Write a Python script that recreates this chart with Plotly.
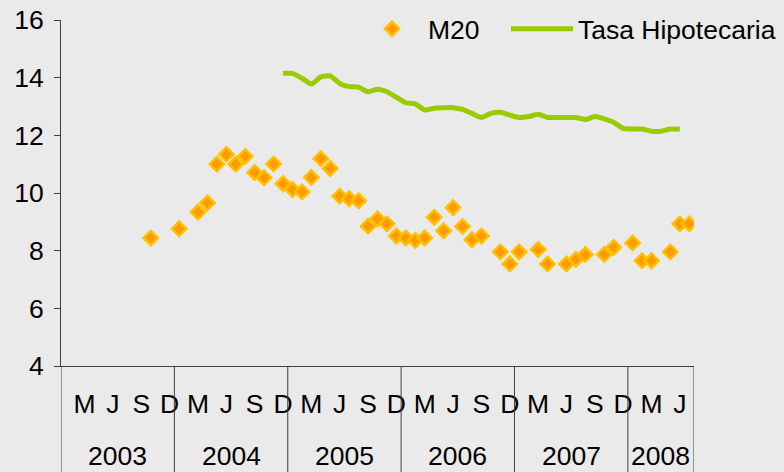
import plotly.graph_objects as go

# ---- data ----
years = ["2003", "2004", "2005", "2006", "2007", "2008"]
months_per_year = [12, 12, 12, 12, 12, 7]
month_tick_letters = ["M", "J", "S", "D"]
month_tick_pos = [2, 5, 8, 11]          # month index within a year

m20 = [None, None, None, None, None, None, None, None, None, 8.44, None, None,      # 2003
       8.76, None, 9.34, 9.66, 11.00, 11.34, 11.00, 11.27, 10.71, 10.53, 11.01, 10.32,  # 2004
       10.12, 10.04, 10.54, 11.19, 10.85, 9.89, 9.80, 9.73, 8.85, 9.10, 8.93, 8.51,     # 2005
       8.44, 8.36, 8.44, 9.16, 8.69, 9.49, 8.84, 8.38, 8.51, None, 7.96, 7.54,         # 2006
       7.96, None, 8.04, 7.54, None, 7.54, 7.70, 7.87, None, 7.87, 8.11, None,         # 2007
       8.27, 7.65, 7.65, None, 7.96, 8.93, 8.93]                                      # 2008

tasa = [None] * 23 + [
    14.15,                                                                        # Dic 2004
    14.15, 13.98, 13.78, 14.03, 14.06, 13.80, 13.69, 13.67, 13.51, 13.60, 13.51, 13.32,  # 2005
    13.13, 13.09, 12.88, 12.94, 12.96, 12.96, 12.90, 12.76, 12.62, 12.76, 12.80, 12.70,  # 2006
    12.62, 12.65, 12.73, 12.62, 12.62, 12.62, 12.62, 12.55, 12.65, 12.57, 12.45, 12.24,  # 2007
    12.22, 12.22, 12.14, 12.14, 12.22, 12.22, None]                                # 2008

# ---- derived positions ----
n = sum(months_per_year)
x = list(range(n))
starts = []
s = 0
for c in months_per_year:
    starts.append(s)
    s += c

tickvals, ticktext = [], []
for st, c in zip(starts, months_per_year):
    for p, lab in zip(month_tick_pos, month_tick_letters):
        if p < c:
            tickvals.append(st + p)
            ticktext.append(lab)

FONT = "Liberation Sans, Arial, sans-serif"
FS = 26.5
BG = "#EAEAEA"
AX = "#404040"

fig = go.Figure()
fig.add_trace(go.Scatter(
    x=x, y=m20, mode="markers", name="M20", legendwidth=73,
    marker=dict(symbol="diamond", size=11, color="#FF9900",
                line=dict(color="#FFC000", width=2.5)),
))
fig.add_trace(go.Scatter(
    x=x, y=tasa, mode="lines", name="Tasa Hipotecaria",
    line=dict(color="#99CC00", width=5, shape="spline", smoothing=0.5),
))

# year separators and labels
T, B = 20, 106
plot_h = 472 - T - B
bottom = -B / plot_h
for st, c, yr in zip(starts, months_per_year, years):
    fig.add_shape(type="line", xref="x", yref="paper",
                  x0=st - 0.5, x1=st - 0.5, y0=0, y1=bottom,
                  line=dict(color=AX, width=1))
    fig.add_annotation(xref="x", yref="paper", x=st + (c - 1) / 2,
                       y=-(456 - (472 - B)) / plot_h, yanchor="middle",
                       text=yr, showarrow=False,
                       font=dict(size=FS, family=FONT, color="black"))
fig.add_shape(type="line", xref="x", yref="paper",
              x0=n - 0.5, x1=n - 0.5, y0=0, y1=bottom,
              line=dict(color=AX, width=1))

fig.update_layout(
    width=784, height=472,
    margin=dict(l=61, r=90, t=T, b=B, pad=0, autoexpand=False),
    paper_bgcolor=BG, plot_bgcolor=BG,
    font=dict(family=FONT, size=FS, color="black"),
    showlegend=True,
    legend=dict(orientation="h", xref="paper", yref="paper",
                x=(356 - 61) / 633, xanchor="left",
                y=(472 - B - 29) / plot_h, yanchor="middle",
                bgcolor="rgba(0,0,0,0)", font=dict(size=FS),
                itemwidth=62),
    xaxis=dict(range=[-0.5, n - 0.5], tickmode="array",
               tickvals=tickvals, ticktext=ticktext, ticks="",
               showgrid=False, zeroline=False, showline=True,
               linecolor=AX, linewidth=1, ticklabelstandoff=14,
               tickfont=dict(size=FS)),
    yaxis=dict(range=[4, 16], dtick=2, ticks="outside", ticklen=6,
               tickcolor=AX, showgrid=False, zeroline=False,
               showline=True, linecolor=AX, linewidth=1,
               ticklabelstandoff=5, tickfont=dict(size=FS)),
)

fig.write_html(
    "out.html",
    config={"displayModeBar": False},
    post_script="document.body.style.margin='0';"
                "document.body.style.background='#EAEAEA';",
)
